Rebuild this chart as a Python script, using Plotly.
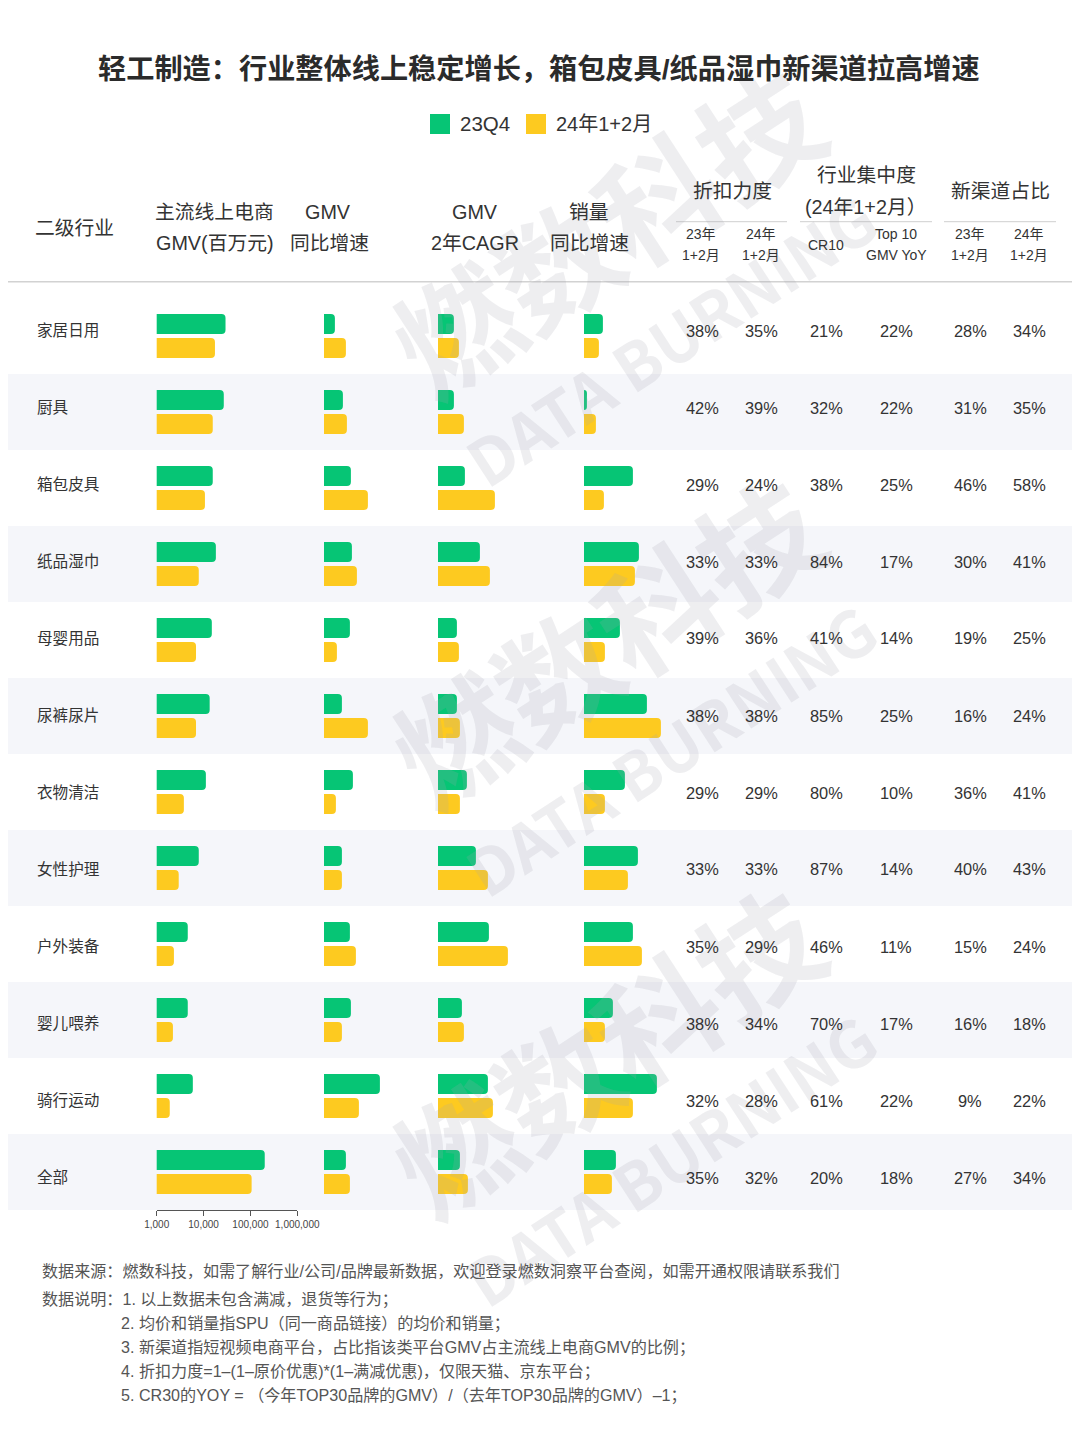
import plotly.graph_objects as go

# ---------------- data ----------------
categories = ["家居日用", "厨具", "箱包皮具", "纸品湿巾", "母婴用品", "尿裤尿片",
              "衣物清洁", "女性护理", "户外装备", "婴儿喂养", "骑行运动", "全部"]
series_names = ["23Q4", "24年1+2月"]

# 主流线上电商GMV(百万元)
gmv_23q4 = [29400, 27000, 15700, 18300, 15000, 13500, 11200, 7900, 4600, 4600, 5900, 202000]
gmv_24 = [17500, 15700, 10700, 7900, 6900, 6900, 3800, 2950, 2330, 2220, 1900, 106000]
# GMV同比增速 (%)
gmv_yoy_23q4 = [11, 19, 27, 28, 26, 18, 29, 18, 26, 27, 56, 22]
gmv_yoy_24 = [22, 23, 44, 33, 13, 44, 12, 18, 32, 18, 35, 26]
# GMV 2年CAGR (%)
cagr_23q4 = [16, 16, 27, 42, 19, 19, 29, 38, 51, 24, 50, 22]
cagr_24 = [21, 26, 57, 52, 21, 22, 22, 50, 70, 26, 55, 30]
# 销量同比增速 (%)
vol_yoy_23q4 = [19, 3, 49, 55, 36, 63, 41, 54, 49, 29, 73, 32]
vol_yoy_24 = [15, 12, 20, 51, 21, 77, 21, 44, 58, 21, 49, 28]

# table columns (%)
disc_23 = [38, 42, 29, 33, 39, 38, 29, 33, 35, 38, 32, 35]
disc_24 = [35, 39, 24, 33, 36, 38, 29, 33, 29, 34, 28, 32]
cr10 = [21, 32, 38, 84, 41, 85, 80, 87, 46, 70, 61, 20]
top10_yoy = [22, 22, 25, 17, 14, 25, 10, 14, 11, 17, 22, 18]
newch_23 = [28, 31, 46, 30, 19, 16, 36, 40, 15, 16, 9, 27]
newch_24 = [34, 35, 58, 41, 25, 24, 41, 43, 24, 18, 22, 34]

gmv_tickvals = [1000, 10000, 100000, 1000000]
gmv_ticktext = ["1,000", "10,000", "100,000", "1,000,000"]

title_text = "轻工制造：行业整体线上稳定增长，箱包皮具/纸品湿巾新渠道拉高增速"
footnotes = [
    "数据来源：燃数科技，如需了解行业/公司/品牌最新数据，欢迎登录燃数洞察平台查阅，如需开通权限请联系我们",
    "数据说明：1. 以上数据未包含满减，退货等行为；",
    "2. 均价和销量指SPU（同一商品链接）的均价和销量；",
    "3. 新渠道指短视频电商平台，占比指该类平台GMV占主流线上电商GMV的比例；",
    "4. 折扣力度=1–(1–原价优惠)*(1–满减优惠)，仅限天猫、京东平台；",
    "5. CR30的YOY = （今年TOP30品牌的GMV）/（去年TOP30品牌的GMV）–1；",
]

# ---------------- style ----------------
OX, OY = 8, 8          # page offset of the plot div (body margin)
W, H = 1080 - OX, 1455 - OY
GREEN = "#06C575"
YELLOW = "#FDCA20"
TXT = "#333333"
FONT = "Liberation Sans, Noto Sans CJK SC, sans-serif"
BAND = "#F5F6FA"


def fx(x):
    return (x - OX) / W


def fy(y):
    return 1 - (y - OY) / H


ROW_TOP, ROW_H, NROW = 298, 76, len(categories)

fig = go.Figure()

bar_cols = [
    ("x", gmv_23q4, gmv_24),
    ("x2", gmv_yoy_23q4, gmv_yoy_24),
    ("x3", cagr_23q4, cagr_24),
    ("x4", vol_yoy_23q4, vol_yoy_24),
]
bw = 20 / ROW_H
for ax, g, yv in bar_cols:
    fig.add_trace(go.Bar(y=categories, x=g, orientation="h", xaxis=ax, yaxis="y",
                         marker=dict(color=GREEN, line=dict(width=0)), width=bw,
                         offset=-22 / ROW_H, name=series_names[0], showlegend=False))
    fig.add_trace(go.Bar(y=categories, x=yv, orientation="h", xaxis=ax, yaxis="y",
                         marker=dict(color=YELLOW, line=dict(width=0)), width=bw,
                         offset=2 / ROW_H, name=series_names[1], showlegend=False))

shapes = []
# alternating row bands
for k in range(1, NROW, 2):
    shapes.append(dict(type="rect", xref="paper", yref="paper", x0=fx(0), x1=fx(1080),
                       y0=fy(ROW_TOP + ROW_H * (k + 1)), y1=fy(ROW_TOP + ROW_H * k),
                       fillcolor=BAND, line=dict(width=0), layer="below"))
# header lines
shapes.append(dict(type="line", xref="paper", yref="paper", x0=fx(0), x1=fx(1080),
                   y0=fy(281.7), y1=fy(281.7), line=dict(color="#D2D2D2", width=1.5)))
for x0, x1 in [(676, 787), (800, 932), (944, 1056)]:
    shapes.append(dict(type="line", xref="paper", yref="paper", x0=fx(x0), x1=fx(x1),
                       y0=fy(221.7), y1=fy(221.7), line=dict(color="#CFCFCF", width=1)))
# legend swatches
for x0, c in [(430, GREEN), (526, YELLOW)]:
    shapes.append(dict(type="rect", xref="paper", yref="paper", x0=fx(x0), x1=fx(x0 + 20),
                       y0=fy(134), y1=fy(114), fillcolor=c, line=dict(width=0)))

ann = []


def add_text(text, x, y, size, color=TXT, xanchor="center", bold=False, **kw):
    ann.append(dict(text=("<b>%s</b>" % text) if bold else text, x=fx(x), y=fy(y),
                    xref="paper", yref="paper", xanchor=xanchor, yanchor="middle",
                    showarrow=False, font=dict(family=FONT, size=size, color=color), **kw))


# watermark
WM = "rgba(165,165,175,0.19)"
for cy in [228, 638, 1048]:
    ann.append(dict(text="<b>燃数科技</b>", x=fx(605), y=fy(cy), xref="paper", yref="paper",
                    xanchor="center", yanchor="middle", showarrow=False, textangle=-33,
                    font=dict(family="Noto Sans CJK SC", size=120, color=WM)))
    ann.append(dict(text="<b>DATA BURNING</b>", x=fx(670), y=fy(cy + 110), xref="paper",
                    yref="paper", xanchor="center", yanchor="middle", showarrow=False,
                    textangle=-33,
                    font=dict(family="Noto Sans CJK SC", size=64, color=WM)))

# title & legend
add_text(title_text, 539, 69.5, 28.2, color="#2B2B2B", bold=True)
add_text(series_names[0], 458, 124, 20.5, xanchor="left")
add_text(series_names[1], 554, 124, 20, xanchor="left")

# header
HS = 19.8
SS = 14
header = [
    ("二级行业", 74, 228, HS), ("主流线上电商", 214, 212, HS), ("GMV(百万元)", 215, 243, HS),
    ("GMV", 328, 212, HS), ("同比增速", 329, 243, HS),
    ("GMV", 475, 212, HS), ("2年CAGR", 475, 243, HS),
    ("销量", 589, 212, HS), ("同比增速", 589, 243, HS),
    ("折扣力度", 732, 191, HS), ("行业集中度", 866, 175, HS), ("(24年1+2月）", 866, 207, HS),
    ("新渠道占比", 1000, 191, HS),
    ("23年", 701, 234.5, SS), ("1+2月", 701, 254.5, SS),
    ("24年", 761, 234.5, SS), ("1+2月", 761, 254.5, SS),
    ("CR10", 826, 244.5, SS), ("Top 10", 896, 234.5, SS), ("GMV YoY", 896, 254.5, SS),
    ("23年", 970, 234.5, SS), ("1+2月", 970, 254.5, SS),
    ("24年", 1029, 234.5, SS), ("1+2月", 1029, 254.5, SS),
]
for t, x, y, s in header:
    add_text(t, x, y, s)

# row labels and table values
table_cols = [(702, disc_23), (761, disc_24), (826, cr10), (896, top10_yoy),
              (970, newch_23), (1029, newch_24)]
for k, cat in enumerate(categories):
    ty = 330.5 + 77 * k
    add_text(cat, 35, ty, 15.6, xanchor="left")
    for x, vals in table_cols:
        add_text("%d%%" % vals[k], x, ty, 16.4)

# footnotes
foot_y = [1271, 1299, 1323, 1347, 1371, 1395]
for i, (t, y) in enumerate(zip(footnotes, foot_y)):
    add_text(t, 40 if i < 2 else 119, y, 16.1, color="#555555", xanchor="left")

hidden = dict(visible=False, anchor="y", range=[0, 100], showgrid=False, zeroline=False)
fig.update_layout(
    width=W, height=H, margin=dict(l=0, r=0, t=0, b=0, autoexpand=False),
    paper_bgcolor="white", plot_bgcolor="rgba(0,0,0,0)",
    barmode="overlay", barcornerradius=4, showlegend=False,
    font=dict(family=FONT, color=TXT),
    yaxis=dict(domain=[fy(ROW_TOP + ROW_H * NROW), fy(ROW_TOP)], type="category",
               categoryorder="array", categoryarray=categories,
               range=[NROW - 0.5, -0.5], showticklabels=False, showgrid=False,
               zeroline=False, showline=False, ticks=""),
    xaxis=dict(type="log", range=[3, 6], domain=[fx(156.7), fx(297.3)], anchor="y",
               showline=True, linecolor="#555555", linewidth=1, ticks="outside",
               ticklen=5, tickcolor="#555555", tickvals=gmv_tickvals,
               ticktext=gmv_ticktext, tickangle=0, automargin=False,
               tickfont=dict(size=10, color="#444444"),
               showgrid=False, zeroline=False),
    xaxis2=dict(domain=[fx(323.9), fx(423.9)], **hidden),
    xaxis3=dict(domain=[fx(437.9), fx(537.9)], **hidden),
    xaxis4=dict(domain=[fx(583.9), fx(683.9)], **hidden),
    shapes=shapes, annotations=ann,
)

fig.write_html("out.html")
